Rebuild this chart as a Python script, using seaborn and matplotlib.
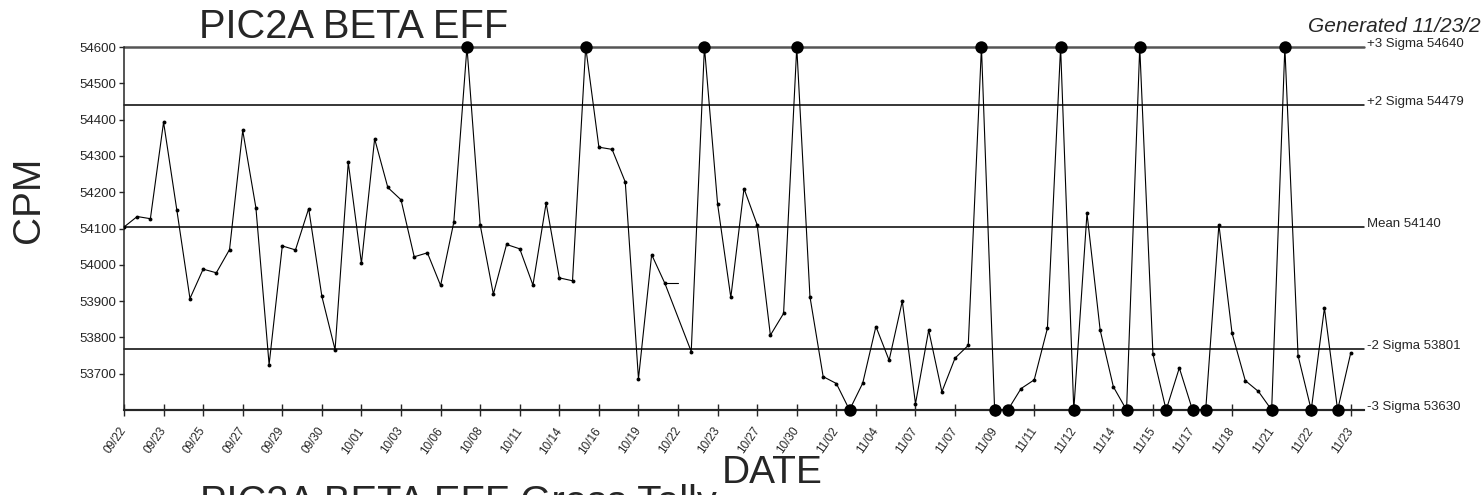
"""
Control chart for PIC2A beta efficiency (CPM by date) with sigma limits.
Writes out.png.
"""
import numpy as np
import pandas as pd
import matplotlib
matplotlib.use('Agg')
import matplotlib.pyplot as plt
import matplotlib.transforms as mtransforms
import seaborn as sns

# readings in sample order; nan = missing sample; values at the limits are off-scale
cpm = [54104, 54133, 54127, 54393, 54152, 53907, 53988, 53978, 54042, 54370,
       54157, 53725, 54052, 54041, 54155, 53913, 53766, 54282, 54004, 54347,
       54213, 54179, 54022, 54033, 53943, 54117, 54600, 54110, 53919, 54056,
       54044, 53944, 54170, 53964, 53956, 54600, 54324, 54318, 54228, 53686,
       54028, 53949, np.nan, 53761, 54600, 54167, 53910, 54210, 54110, 53806,
       53866, 54600, 53912, 53692, 53673, 53600, 53674, 53830, 53737, 53900,
       53617, 53820, 53650, 53743, 53778, 54600, 53600, 53600, 53659, 53683,
       53825, 54600, 53600, 54142, 53820, 53664, 53600, 54600, 53754, 53600,
       53716, 53600, 53600, 54111, 53811, 53681, 53651, 53600, 54600, 53750,
       53600, 53881, 53600, 53758]

date_labels = ['09/22', '09/23', '09/25', '09/27', '09/29', '09/30', '10/01', '10/03',
               '10/06', '10/08', '10/11', '10/14', '10/16', '10/19', '10/22', '10/23',
               '10/27', '10/30', '11/02', '11/04', '11/07', '11/07', '11/09', '11/11',
               '11/12', '11/14', '11/15', '11/17', '11/18', '11/21', '11/22', '11/23']
label_every = 3

limit_names = ['+3 Sigma 54640', '+2 Sigma 54479', 'Mean 54140', '-2 Sigma 53801', '-3 Sigma 53630']
limit_levels = [54600, 54439, 54104, 53769, 53600]
y_ticks = list(range(53700, 54601, 100))
y_lo, y_hi = 53600, 54600

sns.set_style('ticks')
plt.rcParams['font.family'] = ['Liberation Sans', 'DejaVu Sans']

df = pd.DataFrame({'sample': np.arange(len(cpm)), 'cpm': cpm})
valid = df.dropna()
off_scale = valid[(valid['cpm'] >= y_hi) | (valid['cpm'] <= y_lo)]
gaps = df.index[df['cpm'].isna()]

fig = plt.figure(figsize=(14.82, 4.95), dpi=100)
ax = fig.add_axes([124 / 1482, 85 / 495, 1240 / 1482, 363 / 495])

# limit lines
styles = [('#555555', 1.8), ('black', 1.1), ('black', 1.1), ('black', 1.1), ('black', 1.5)]
for lvl, (col, lw) in zip(limit_levels, styles):
    ax.axhline(lvl, color=col, lw=lw, zorder=1.5, clip_on=False)

sns.lineplot(data=valid, x='sample', y='cpm', color='black', lw=0.8, marker='o',
             markersize=2.8, markeredgewidth=0, estimator=None, errorbar=None,
             ax=ax, zorder=3)
for g in gaps:
    ax.plot([g - 1, g], [df['cpm'][g - 1]] * 2, color='black', lw=0.8, zorder=3)
sns.scatterplot(data=off_scale, x='sample', y='cpm', color='black', s=80,
                linewidth=0, clip_on=False, zorder=4, ax=ax)

ax.set_xlim(0, len(cpm))
ax.set_ylim(y_lo, y_hi)
ax.set_xticks(np.arange(0, len(cpm), label_every))
ax.set_xticklabels(date_labels, rotation=55, ha='right', va='center',
                   rotation_mode='anchor', fontsize=8.5)
ax.set_yticks(y_ticks)
ax.set_yticklabels([str(v) for v in y_ticks], fontsize=9.5)
ax.tick_params(axis='x', direction='inout', length=9, width=1, pad=8.8)
ax.tick_params(axis='y', direction='out', length=3.6, width=1, pad=2.2)

sns.despine(ax=ax)
ax.spines['left'].set_linewidth(1.1)
ax.spines['bottom'].set_linewidth(1.5)

trans = mtransforms.blended_transform_factory(ax.transAxes, ax.transData)
for name, lvl in zip(limit_names, limit_levels):
    ax.text(1.0025, lvl, name, transform=trans, va='baseline', ha='left', fontsize=9.5)

ax.set_xlabel('DATE', fontsize=28)
ax.xaxis.set_label_coords(0.5226, -0.201)
ax.xaxis.label.set_va('baseline')
ax.set_ylabel('CPM', fontsize=28)
ax.yaxis.set_label_coords(-0.0766, 0.578)
ax.yaxis.label.set_va('center')

ax.set_title('PIC2A BETA EFF', loc='left', x=0.0605, y=1.0248, pad=0, fontsize=28.7)
fig.text(1308 / 1482, 1 - 32 / 495, 'Generated 11/23/2', style='italic', fontsize=15,
         va='baseline')
# second chart's title, only its top shows at the bottom edge
fig.text(200 / 1482, 1 - 514 / 495, 'PIC2A BETA EFF Gross Tally', fontsize=28.7,
         va='baseline')

fig.savefig('out.png', dpi=100)
